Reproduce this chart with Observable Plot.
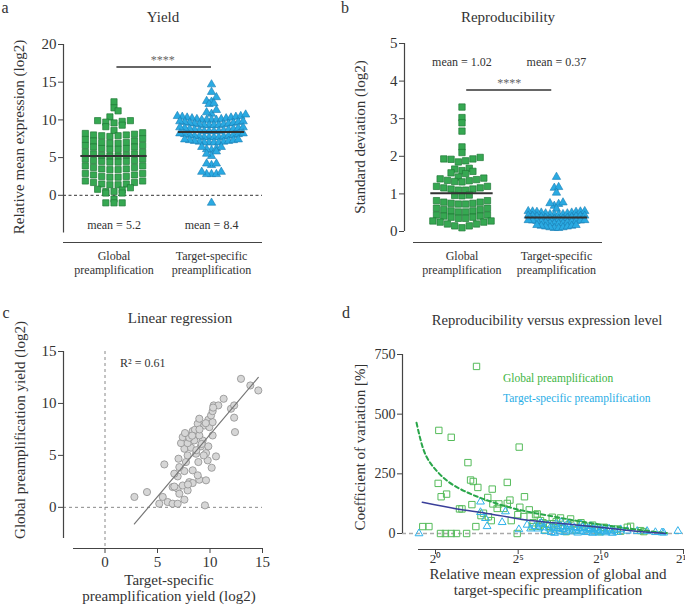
<!DOCTYPE html>
<html><head><meta charset="utf-8">
<script src="https://cdn.jsdelivr.net/npm/d3@7"></script>
<script src="https://cdn.jsdelivr.net/npm/@observablehq/plot@0.6"></script>
<style>
body{margin:0;background:#fff;}
#root{position:relative;width:685px;height:607px;font-family:"Liberation Serif","Times New Roman",serif;color:#333;overflow:hidden;background:#fff}
.t{position:absolute;white-space:nowrap;transform:translate(-50%,-50%);font-size:15px;line-height:1}
.rot{transform:translate(-50%,-50%) rotate(-90deg)}
.lg{position:absolute;white-space:nowrap;transform:translate(0,-50%);font-size:11.5px;line-height:1}
</style></head><body><div id="root"></div>
<script>
// ---------------- DATA ----------------
const categories = ["Global\npreamplification", "Target-specific\npreamplification"];

// Panel a: relative mean expression (log2)
const yieldGlobal = [12.4, 11.6, 11.2, 10.4, 9.9, 9.8, 9.7, 9.9, 9.6, 9.3, 9.1, 8.6,
  8.3, 8.1, 8.0, 7.9, 7.8, 7.9, 8.0, 8.2,
  7.4, 7.2, 7.0, 6.9, 6.9, 7.0, 7.2, 7.5,
  6.6, 6.4, 6.2, 6.1, 6.1, 6.2, 6.4, 6.6,
  5.7, 5.5, 5.3, 5.2, 5.2, 5.3, 5.5, 5.7,
  4.8, 4.6, 4.5, 4.4, 4.4, 4.5, 4.6, 4.8,
  3.9, 3.7, 3.5, 3.4, 3.4, 3.5, 3.7, 3.9,
  2.9, 2.7, 2.5, 2.4, 2.4, 2.5, 2.7, 2.9,
  1.9, 1.7, 1.5, 1.4, 1.4, 1.5, 1.7, 1.9,
  1.0, 0.7, 0.5, 0.3, 0.3, 0.5, 0.8,
  -0.5, -1.0, -1.0, -1.0];
const yieldTarget = [14.7, 13.7, 13.0, 12.5, 12.4, 12.2, 12.1, 11.3, 11.0, 10.8, 10.7,
  10.5, 10.4, 10.3, 10.2, 10.1, 10.0, 10.0, 10.0, 10.0, 10.1, 10.2, 10.3, 10.4, 10.5,
  9.8, 9.7, 9.6, 9.5, 9.4, 9.3, 9.3, 9.3, 9.3, 9.4, 9.5, 9.6, 9.7, 9.8,
  9.0, 8.9, 8.8, 8.7, 8.6, 8.5, 8.5, 8.5, 8.5, 8.6, 8.7, 8.8, 8.9, 9.0,
  8.2, 8.1, 8.0, 7.9, 7.8, 7.7, 7.7, 7.7, 7.7, 7.8, 7.9, 8.0, 8.1, 8.2,
  7.4, 7.3, 7.2, 7.1, 7.0, 7.0, 7.0, 7.0, 7.1, 7.2, 7.3, 7.4,
  6.4, 6.1, 6.2, 6.0, 6.4, 5.5, 5.2, 5.8, 4.2, 4.0, 4.2, 3.1, 2.8, 2.8, 2.8, 3.1, -1.0];
const yieldMeans = [5.2, 8.4];

// Panel b: standard deviation (log2)
const sdGlobal = [3.31, 3.03, 2.89, 2.67, 2.25, 2.10,
  1.97, 1.93, 1.92, 1.88, 1.85, 1.93,
  1.68, 1.66, 1.60, 1.56, 1.54, 1.62,
  1.42, 1.38, 1.35, 1.33, 1.32, 1.36, 1.40, 1.45,
  1.20, 1.16, 1.13, 1.10, 1.10, 1.13, 1.16, 1.20,
  0.97, 0.95, 0.96,
  0.82, 0.78, 0.75, 0.73, 0.73, 0.75, 0.78, 0.82,
  0.62, 0.58, 0.55, 0.52, 0.52, 0.55, 0.58, 0.62,
  0.44, 0.41, 0.38, 0.35, 0.35, 0.38, 0.41, 0.44,
  0.28, 0.25, 0.20, 0.15, 0.10, 0.15, 0.20, 0.25, 0.28];
const sdTarget = [1.45, 1.18, 1.16, 1.03, 0.77, 0.73, 0.60, 0.68, 0.75,
  0.54, 0.53, 0.52, 0.50, 0.48, 0.46, 0.45, 0.45, 0.46, 0.48, 0.50, 0.52, 0.53, 0.54,
  0.42, 0.41, 0.40, 0.38, 0.36, 0.34, 0.33, 0.33, 0.34, 0.36, 0.38, 0.40, 0.41, 0.42,
  0.30, 0.29, 0.28, 0.26, 0.24, 0.22, 0.21, 0.21, 0.22, 0.24, 0.26, 0.28, 0.29, 0.30,
  0.17, 0.15, 0.13, 0.11, 0.09, 0.09, 0.11, 0.13, 0.15, 0.17];
const sdMeans = [1.02, 0.37];

// Panel c: target-specific yield (x) vs global yield (y)
const regTarget = [2.8, 4.0, 5.65, 5.17, 5.5, 5.97, 6.44, 6.92, 7.56, 6.44, 6.92, 7.4, 7.08, 7.87, 8.03, 8.35, 8.98, 9.62, 9.52, 6.92,
  7.56, 8.35, 7.08, 7.71, 8.89, 10.16, 10.57, 7.0, 7.87, 8.67, 9.62, 7.56, 8.19, 9.14, 9.84, 7.24, 7.87, 8.5, 9.3, 7.4,
  8.03, 8.98, 10.25, 7.62, 8.35, 8.57, 8.83, 9.46, 9.94, 8.98, 9.84, 10.25, 10.1, 10.25, 10.35, 10.79, 10.3, 11.3, 12.0, 12.3,
  12.3, 12.38, 12.95, 13.84, 14.6, 9.78, 8.83, 6.6, 9.0, 9.2, 8.3, 9.6, 8.7, 9.4, 7.9, 6.6];
const regGlobal = [1.0, 1.47, 4.13, 0.35, 1.0, 0.51, 0.35, 0.35, 0.74, 1.95, 1.8, 2.1, 1.31, 1.63, 2.43, 2.34, 2.66, 2.6, 0.19, 2.98,
  3.49, 3.56, 3.87, 4.36, 4.36, 3.81, 4.9, 4.68, 5.0, 5.16, 5.22, 5.64, 5.74, 5.87, 5.87, 6.18, 6.18, 6.44, 6.44, 6.76,
  6.7, 6.92, 6.92, 7.15, 7.34, 7.47, 8.05, 7.88, 7.72, 8.53, 8.43, 8.2, 8.85, 9.26, 9.81, 9.81, 9.6, 10.45, 9.49, 9.81,
  8.63, 7.24, 12.37, 11.73, 11.25, 4.52, 3.08, 3.24, 7.5, 6.1, 6.9, 8.1, 5.5, 5.0, 2.2, 2.0];
const regLineX = [2.8, 14.6];
const regLineY = [-1.6, 12.5];
const rSquared = "0.61";

// Panel d: log2 relative mean expression vs coefficient of variation [%]
const cvGlobalX = [2.48, 0.2, 0.95, 1.96, 2.12, 2.28, 2.56, 0.16, 0.34, 0.67, 1.45, 1.6, 2.2, 2.44, -0.77, -0.4, 0.3, 0.6, 0.95, 1.27,
  1.88, 3.43, 3.16, 4.34, 5.06, 5.38, 3.47, 3.83, 4.34, 3.73, 4.13, 5.1, 5.67, 4.98, 3.37, 4.58, 4.94, 5.34, 6.05, 6.15,
  7.06, 7.56, 8.17, 8.37, 8.87, 9.62, 10.2, 11.0, 11.6, 12.4, 6.35, 6.76, 7.16, 5.85, 6.5, 6.9, 7.3, 7.7, 7.9, 8.0,
  8.5, 8.8, 9.0, 9.3, 9.5, 9.8, 10.0, 10.5, 11.2, 11.8, 12.6, 6.6, 7.4, 5.9, 6.3, 2.9, 3.2, 4.5, 2.75];
const cvGlobalY = [700, 432, 403, 297, 224, 218, 193, 210, 154, 165, 103, 103, 121, 29, 29, 29, 0, 0, 0, 0,
  0, 186, 151, 214, 362, 154, 124, 124, 126, 105, 105, 110, 99, 79, 54, 54, 0, 71, 79, 82,
  68, 65, 61, 40, 37, 26, 26, 19, 26, 12, 54, 40, 24, 29, 45, 30, 50, 20, 8, 35,
  15, 45, 30, 20, 35, 15, 8, 20, 10, 30, 8, 15, 35, 45, 30, 85, 70, 140, 75];
const cvTargetX = [-1.0, 2.72, 2.72, 3.02, 3.12, 4.23, 4.03, 5.04, 5.54, 5.75, 11.2, 11.6, 12.2, 12.8, 13.3, 13.8, 14.66, 13.7,
  6.0, 6.2, 6.3, 6.5, 6.6, 6.8, 6.9, 7.0, 7.1, 7.2, 7.3, 7.4, 7.5, 7.6, 7.7, 7.8, 7.9, 8.0, 8.1, 8.2,
  8.3, 8.4, 8.5, 8.6, 8.7, 8.8, 8.9, 9.0, 9.1, 9.2, 9.3, 9.4, 9.5, 9.6, 9.7, 9.8, 9.9, 10.0, 10.1, 10.2,
  10.3, 10.4, 10.5, 10.6, 10.8, 11.0, 6.4, 7.6, 8.0, 8.8, 9.5, 7.2, 10.7];
const cvTargetY = [0, 133, 89, 64, 30, 92, 47, 17, 36, 20, 17, 11, 10, 10, 5, 3, 10, 4,
  30, 20, 40, 25, 10, 35, 20, 5, 28, 15, 40, 22, 8, 30, 18, 5, 25, 12, 32, 20,
  8, 26, 15, 3, 22, 10, 28, 16, 5, 22, 12, 30, 18, 6, 24, 14, 3, 20, 10, 16,
  4, 12, 20, 8, 14, 6, 45, 48, 40, 38, 2, 2, 2];
const fitGlobalX = [-1.15, -0.7, -0.1, 0.7, 1.71, 2.92, 4.34, 5.75, 7.36, 8.8, 10.4, 12.0, 13.4, 14.0];
const fitGlobalY = [464, 346, 276, 221, 179, 144, 112, 89, 68, 50, 33, 18, 6, 2];
const fitTargetX = [-0.8, 1.31, 3.33, 5.75, 8.37, 11.4, 13.4, 13.9];
const fitTargetY = [131, 103, 82, 54, 37, 15, 3, 0];
const log2Ticks = [0, 5, 10, 15];
const supDigits = {"0":"⁰","1":"¹","2":"²","3":"³","4":"⁴","5":"⁵","6":"⁶","7":"⁷","8":"⁸","9":"⁹"};

// ---------------- STYLE ----------------
const GREEN_FILL = "#36a852", GREEN_STROKE = "#1f7a37";
const BLUE_FILL = "#2aaae2", BLUE_STROKE = "#1b7db4";
const GREEN_OPEN = "#55bb5a", BLUE_OPEN = "#30b2ea";
const AX = "#444";
const FONT = "'Liberation Serif','Times New Roman',serif";

function svgStyle(left, top, fs) {
  return {position: "absolute", left: left + "px", top: top + "px", background: "transparent",
          overflow: "visible", color: "#333", fontFamily: FONT, fontSize: fs + "px", maxWidth: "none"};
}

// Column-scatter layout: bin values, spread each bin horizontally (lowest in the centre)
function swarm(values, group, binW, binOff, step) {
  const bins = d3.group(values, v => Math.floor((v - binOff) / binW));
  const out = [];
  for (const [, arr] of bins) {
    const vals = arr.slice().sort((a, b) => a - b);
    const n = vals.length;
    const slots = d3.range(n).map(k => (k - (n - 1) / 2) * step)
      .sort((a, b) => Math.abs(a) - Math.abs(b) || a - b);
    vals.forEach((v, k) => out.push({x: group + slots[k], y: v}));
  }
  return out;
}

const root = document.getElementById("root");

// ---------------- PANEL A ----------------
{
  const xd = [0.482, 2.523];
  const ga = swarm(yieldGlobal, 1, 0.9, 0.4, 0.084);
  const ta = swarm(yieldTarget, 2, 0.8, 0.3, 0.05);
  const means = yieldMeans.map((m, i) => ({g: i + 1, m}));
  const p = Plot.plot({
    width: 340, height: 300, marginLeft: 63, marginRight: 78, marginTop: 44, marginBottom: 58,
    x: {domain: xd, axis: null},
    y: {domain: [-5, 20], insetBottom: 9.5, axis: null},
    style: svgStyle(0, 0, 15),
    marks: [
      Plot.ruleY([0], {stroke: "#333", strokeDasharray: "3,2.5", strokeWidth: 1}),
      Plot.ruleX([xd[0]], {stroke: AX, insetBottom: 9.5, strokeWidth: 1.2}),
      Plot.ruleY([-5], {dy: 9.5, stroke: AX, strokeWidth: 1.2}),
      Plot.axisY({ticks: [0, 5, 10, 15, 20], tickFormat: d => d, tickSize: 5, tickPadding: 2, stroke: AX, label: null}),
      Plot.axisX({ticks: [1, 2], tickFormat: i => categories[i - 1], tickSize: 0, tickPadding: 8, fontSize: 12, lineHeight: 1.15, label: null}),
      Plot.dot(ga, {x: "x", y: "y", symbol: "square", r: 3.5, fill: GREEN_FILL, stroke: GREEN_STROKE, strokeWidth: 0.7}),
      Plot.dot(ta, {x: "x", y: "y", symbol: "triangle", r: 3.1, fill: BLUE_FILL, stroke: BLUE_STROKE, strokeWidth: 0.6}),
      Plot.ruleY(means, {y: "m", x1: d => d.g - 0.34, x2: d => d.g + 0.34, stroke: "#333", strokeWidth: 2}),
      Plot.ruleY([17], {x1: 1.03, x2: 2.0, stroke: "#333", strokeWidth: 1.5}),
      Plot.text(["****"], {x: 1.5, y: 17, dy: -7, fontSize: 12, fill: "#666"}),
      Plot.text(means, {x: "g", y: -4, text: d => "mean = " + d.m, fontSize: 12})
    ]
  });
  root.appendChild(p);
}

// ---------------- PANEL B ----------------
{
  const xd = [0.487, 2.487];
  const gb = swarm(sdGlobal, 1, 0.19, 0.29, 0.077);
  const tb = swarm(sdTarget, 2, 0.12, 0.07, 0.046);
  const means = sdMeans.map((m, i) => ({g: i + 1, m}));
  const p = Plot.plot({
    width: 345, height: 300, marginLeft: 64, marginRight: 83, marginTop: 43, marginBottom: 58,
    x: {domain: xd, insetLeft: 9, axis: null},
    y: {domain: [0, 5], insetBottom: 11, axis: null},
    style: svgStyle(340, 0, 15),
    marks: [
      Plot.ruleX([xd[0]], {dx: -9, insetBottom: 11, stroke: AX, strokeWidth: 1.2}),
      Plot.ruleY([0], {dy: 11, insetLeft: 9, stroke: AX, strokeWidth: 1.2}),
      Plot.axisY({ticks: [0, 1, 2, 3, 4, 5], tickFormat: d => d, tickSize: 5, tickPadding: 2, stroke: AX, label: null}),
      Plot.axisX({ticks: [1, 2], tickFormat: i => categories[i - 1], tickSize: 0, tickPadding: 8, fontSize: 12, lineHeight: 1.15, label: null}),
      Plot.dot(gb, {x: "x", y: "y", symbol: "square", r: 3.6, fill: GREEN_FILL, stroke: GREEN_STROKE, strokeWidth: 0.7}),
      Plot.dot(tb, {x: "x", y: "y", symbol: "triangle", r: 3.1, fill: BLUE_FILL, stroke: BLUE_STROKE, strokeWidth: 0.6}),
      Plot.ruleY(means, {y: "m", x1: d => d.g - 0.33, x2: d => d.g + 0.33, stroke: "#333", strokeWidth: 2}),
      Plot.ruleY([3.76], {x1: 1.05, x2: 1.95, stroke: "#333", strokeWidth: 1.5}),
      Plot.text(["****"], {x: 1.5, y: 3.76, dy: -7, fontSize: 12, fill: "#666"}),
      Plot.text(means, {x: "g", y: 4.5, text: d => "mean = " + d.m.toFixed(2), fontSize: 12})
    ]
  });
  root.appendChild(p);
}

// ---------------- PANEL C ----------------
{
  const pts = regTarget.map((x, i) => ({x, y: regGlobal[i]}));
  const line = regLineX.map((x, i) => ({x, y: regLineY[i]}));
  const p = Plot.plot({
    width: 340, height: 307, marginLeft: 63, marginRight: 78, marginTop: 51, marginBottom: 59,
    x: {domain: [-3, 15], insetLeft: 10, axis: null},
    y: {domain: [-3, 15], insetBottom: 10, axis: null},
    style: svgStyle(0, 300, 15),
    marks: [
      Plot.ruleY([0], {stroke: "#888", strokeDasharray: "3,3"}),
      Plot.ruleX([0], {stroke: "#888", strokeDasharray: "3,3"}),
      Plot.ruleX([-3], {dx: -10, insetBottom: 10, stroke: AX, strokeWidth: 1.2}),
      Plot.ruleY([-3], {dy: 10, insetLeft: 10, stroke: AX, strokeWidth: 1.2}),
      Plot.axisY({ticks: [0, 5, 10, 15], tickFormat: d => d, tickSize: 5, tickPadding: 2, stroke: AX, label: null}),
      Plot.axisX({ticks: [0, 5, 10, 15], tickFormat: d => d, tickSize: 5, tickPadding: 3, stroke: AX, label: null}),
      Plot.dot(pts, {x: "x", y: "y", r: 3.6, fill: "#d6d6d6", stroke: "#8f8f8f", strokeWidth: 0.8}),
      Plot.line(line, {x: "x", y: "y", stroke: "#777", strokeWidth: 1.2}),
      Plot.text(["R² = " + rSquared], {x: 3.6, y: 13.85, fontSize: 12})
    ]
  });
  root.appendChild(p);
}

// ---------------- PANEL D ----------------
{
  const g = cvGlobalX.map((x, i) => ({x, y: cvGlobalY[i]}));
  const t = cvTargetX.map((x, i) => ({x, y: cvTargetY[i]}));
  const fg = fitGlobalX.map((x, i) => ({x, y: fitGlobalY[i]}));
  const ft = fitTargetX.map((x, i) => ({x, y: fitTargetY[i]}));
  const xd = [-1.03, 15];
  const p = Plot.plot({
    width: 345, height: 307, marginLeft: 62, marginRight: 2, marginTop: 54, marginBottom: 58,
    x: {domain: xd, insetLeft: 16, axis: null},
    y: {domain: [0, 750], insetBottom: 16, axis: null},
    style: svgStyle(340, 300, 14),
    marks: [
      Plot.ruleY([0], {stroke: "#aaa", strokeDasharray: "4,3", strokeWidth: 1.3}),
      Plot.ruleX([xd[0]], {dx: -16, insetBottom: 16, stroke: AX, strokeWidth: 1.2}),
      Plot.ruleY([0], {dy: 16, insetLeft: 16, stroke: AX, strokeWidth: 1.2}),
      Plot.axisY({ticks: [0, 250, 500, 750], tickFormat: d => d, tickSize: 5, tickPadding: 2, stroke: AX, label: null}),
      Plot.axisX({ticks: log2Ticks, tickFormat: d => "2" + String(d).split("").map(c => supDigits[c]).join(""),
                  tickSize: 5, tickPadding: -1, fontSize: 13, stroke: AX, label: null}),
      Plot.dot(g, {x: "x", y: "y", symbol: "square", r: 3.6, fill: "none", stroke: GREEN_OPEN, strokeWidth: 1}),
      Plot.dot(t, {x: "x", y: "y", symbol: "triangle", r: 2.9, fill: "none", stroke: BLUE_OPEN, strokeWidth: 1}),
      Plot.line(fg, {x: "x", y: "y", curve: "natural", stroke: "#2aa64a", strokeWidth: 2, strokeDasharray: "4,3"}),
      Plot.line(ft, {x: "x", y: "y", curve: "natural", stroke: "#3a3f9a", strokeWidth: 1.5})
    ]
  });
  root.appendChild(p);
}

// ---------------- TEXT ----------------
const texts = [
  ["a", 5, 8, "font-size:16px"], ["b", 345, 8, "font-size:16px"], ["c", 6, 313, "font-size:16px"], ["d", 346, 313, "font-size:16px"],
  ["Yield", 163, 17, ""], ["Reproducibility", 508, 17, ""], ["Linear regression", 180, 318, ""],
  ["Reproducibility versus expression level", 547, 320, "font-size:14.6px"],
  ["Target-specific", 169, 580, ""], ["preamplification yield (log2)", 169, 596, ""],
  ["Relative mean expression of global and", 548, 574, ""], ["target-specific preamplification", 548, 590, ""]
];
for (const [s, x, y, st] of texts) {
  const d = document.createElement("div");
  d.className = "t"; d.textContent = s; d.style.cssText += `left:${x}px;top:${y}px;${st}`;
  root.appendChild(d);
}
const ylabels = [["Relative mean expression (log2)", 19, 137], ["Standard deviation (log2)", 360, 137],
  ["Global preamplification yield (log2)", 20, 430], ["Coefficient of variation [%]", 360, 447]];
for (const [s, x, y] of ylabels) {
  const d = document.createElement("div");
  d.className = "t rot"; d.textContent = s; d.style.left = x + "px"; d.style.top = y + "px";
  root.appendChild(d);
}
const legend = [["Global preamplification", 503, 379, "#3db53f"], ["Target-specific preamplification", 503, 399, "#29aee6"]];
for (const [s, x, y, c] of legend) {
  const d = document.createElement("div");
  d.className = "lg"; d.textContent = s; d.style.left = x + "px"; d.style.top = y + "px"; d.style.color = c;
  root.appendChild(d);
}
</script></body></html>
